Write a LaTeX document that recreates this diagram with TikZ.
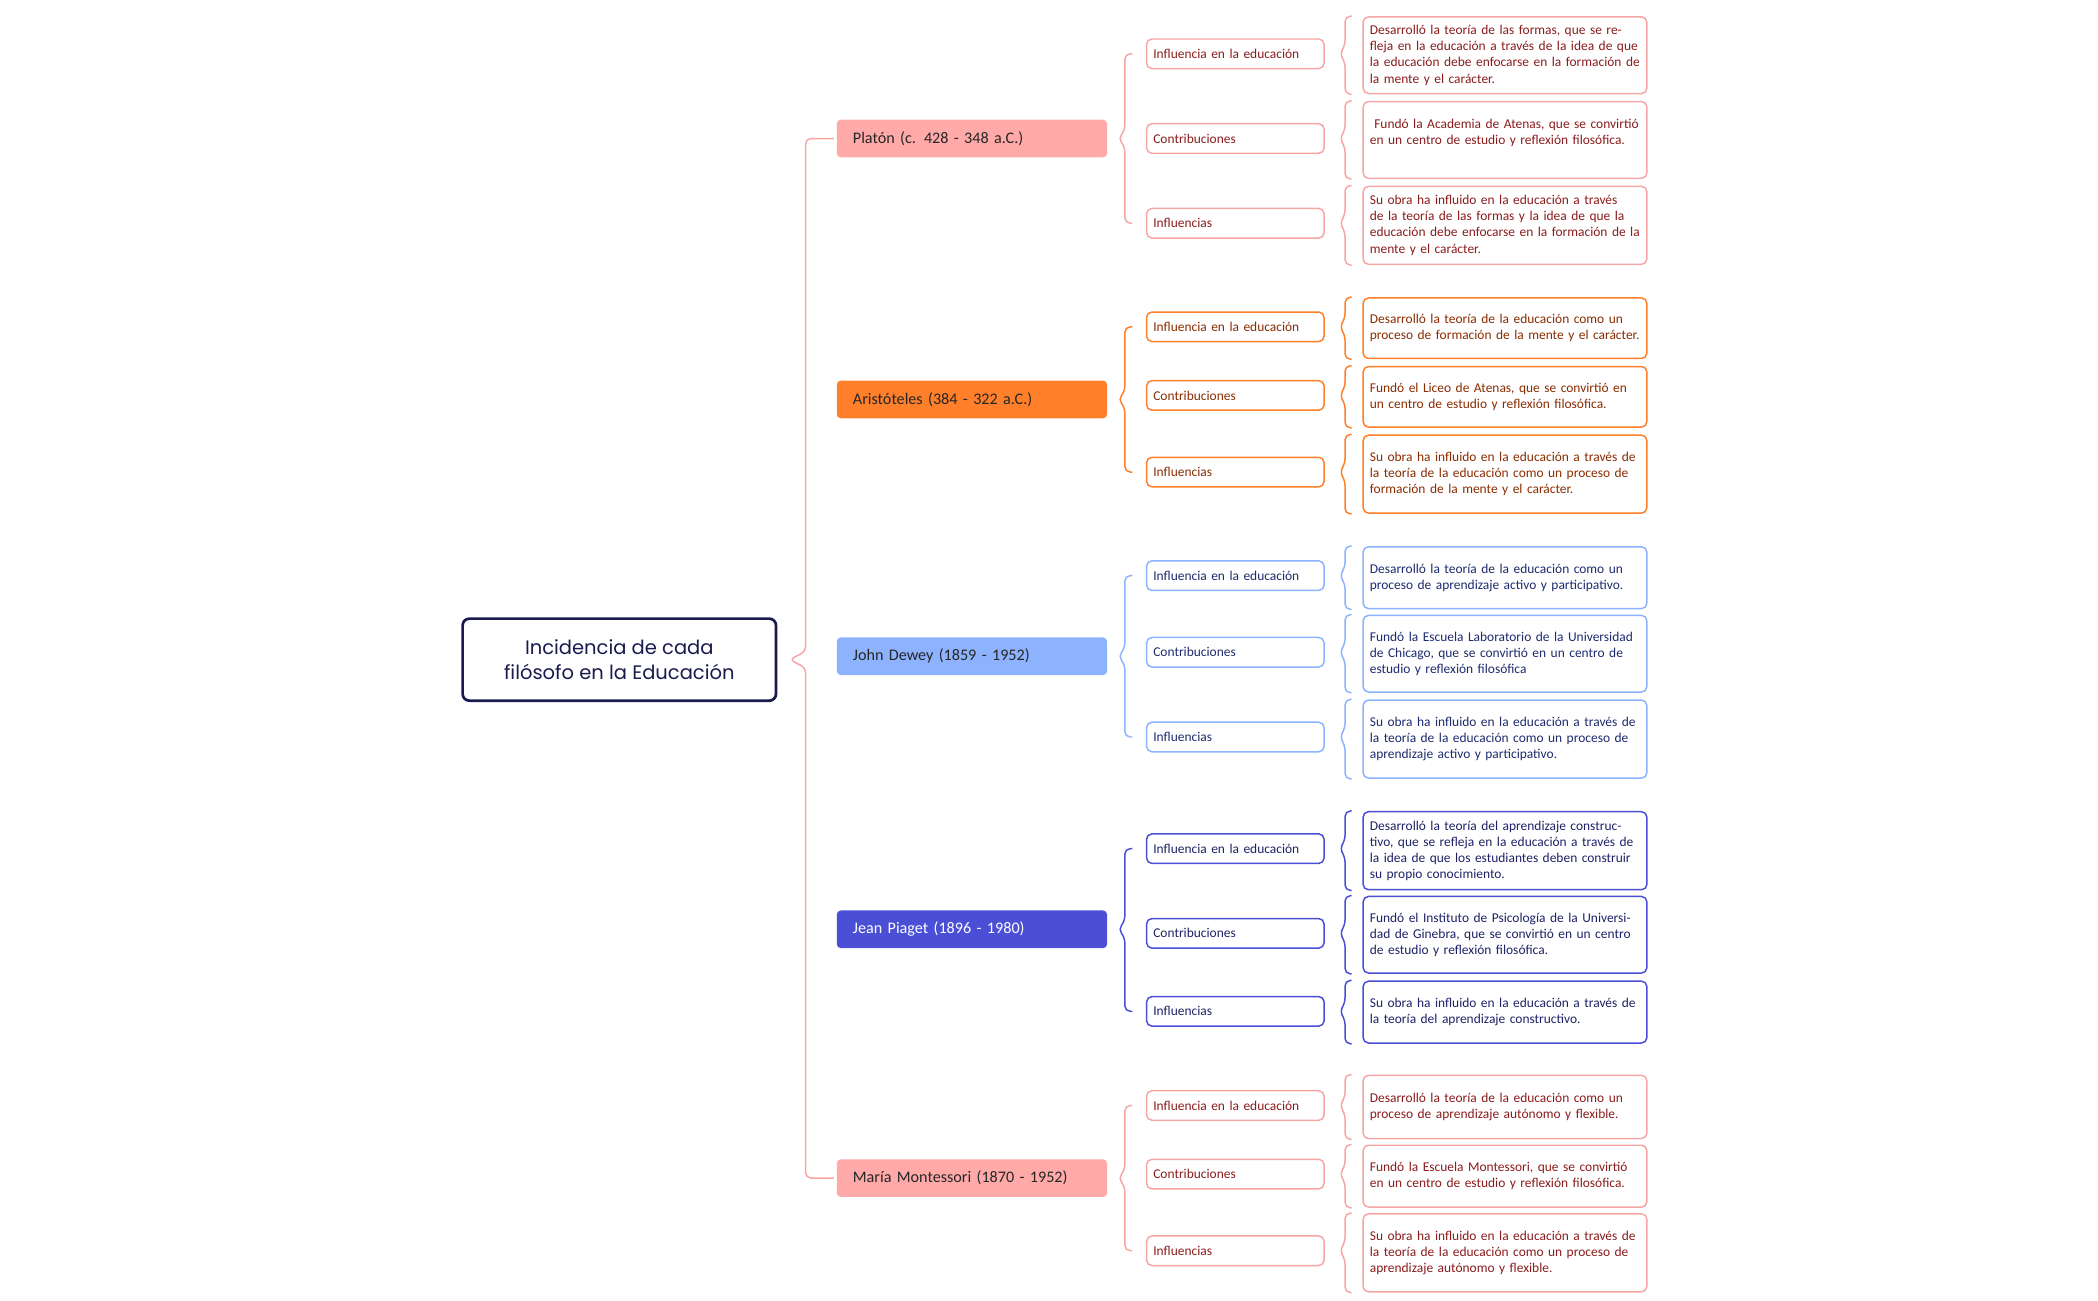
\documentclass[tikz,border=0pt]{standalone}
\usepackage{fontspec}
\setmainfont{Carlito}
\newfontfamily\titlefont{Poppins}
\usetikzlibrary{calc}
\definecolor{pk}{HTML}{F7A5A5}\definecolor{pkf}{HTML}{FFAAA8}\definecolor{pkt}{HTML}{8B1C1C}
\definecolor{orb}{HTML}{FF7F2A}\definecolor{ort}{HTML}{8A2C00}
\definecolor{blb}{HTML}{8DB3FF}\definecolor{blt}{HTML}{1E2B6E}
\definecolor{ppb}{HTML}{4A4FD6}\definecolor{ppt}{HTML}{1E2266}
\definecolor{navy}{HTML}{1A1A4E}
\newcommand\brc[6]{\draw[#1, line width=1.1pt, rounded corners=4pt] let \p1=(#3), \p2=(#2), \p3=(#4) in (\x1,\y1) -- (\x2+#6,\y1) -- (\x2+#6,\y2+6pt) -- (\x2+#5,\y2) -- (\x2+#6,\y2-6pt) -- (\x2+#6,\y3) -- (\x3,\y3);}
\tikzset{
 phil/.style={rounded corners=3pt, minimum height=28, text width=177, inner xsep=12, align=left, font=\fontsize{12}{14}\selectfont, anchor=west},
 ch/.style={draw=#1, line width=1.1pt, fill=white, rounded corners=4pt, minimum height=22, text width=122, inner xsep=5, align=left, font=\fontsize{10}{12}\selectfont, anchor=west},
 lf/.style={draw=#1, line width=1.1pt, fill=white, rounded corners=4pt, text width=201, inner xsep=5, inner ysep=3, align=left, font=\fontsize{10}{12}\selectfont, anchor=north west},
}
\begin{document}
\begin{tikzpicture}[x=1pt,y=-1pt]
\useasboundingbox (0,0) rectangle (1560,967);
\node[draw=navy, line width=2pt, rounded corners=5pt, minimum width=233, minimum height=61, align=center, text=navy, font=\titlefont\fontsize{14.5}{19}\selectfont] (root) at (460.5,490.5) {Incidencia de cada\\filósofo en la Educación};
% philosophers
\node[phil, fill=pkf, text=black!85] (p1) at (622,103) {Platón (c. 428 - 348 a.C.)};
\node[phil, fill=orb, text=black!85] (p2) at (622,297) {Aristóteles (384 - 322 a.C.)};
\node[phil, fill=blb, text=black!85] (p3) at (622,488) {John Dewey (1859 - 1952)};
\node[phil, fill=ppb, text=white] (p4) at (622,691) {Jean Piaget (1896 - 1980)};
\node[phil, fill=pkf, text=black!85] (p5) at (622,876) {María Montessori (1870 - 1952)};
\brc{pk}{root.east}{$(p1.west)+(-2,0)$}{$(p5.west)+(-2,0)$}{9pt}{21pt}
% children
\foreach \i/\c/\t/\ya/\yb/\yc in {1/pk/pkt/40/103/166, 2/orb/ort/243/294/351, 3/blb/blt/428/485/548, 4/ppb/ppt/631/694/752, 5/pk/pkt/822/873/930}{
 \node[ch=\c, text=\t] (c\i a) at (852,\ya) {Influencia en la educación};
 \node[ch=\c, text=\t] (c\i b) at (852,\yb) {Contribuciones};
 \node[ch=\c, text=\t] (c\i c) at (852,\yc) {Influencias};
 \brc{\c}{p\i.east}{$(c\i a.west)+(-10,0)$}{$(c\i c.west)+(-10,0)$}{8pt}{13pt}
}
% leaves
\node[lf=pk, text=pkt, minimum height=57] (l1a) at (1013,12) {Desarrolló la teoría de las formas, que se refleja en la educación a través de la idea de que la educación debe enfocarse en la formación de la mente y el carácter.};
\node[lf=pk, text=pkt, minimum height=57] (l1b) at (1013,75) {\ Fundó la Academia de Atenas, que se convirtió en un centro de estudio y reflexión filosófica.\\\mbox{}};
\node[lf=pk, text=pkt, minimum height=58] (l1c) at (1013,138) {Su obra ha influido en la educación a través de la teoría de las formas y la idea de que la educación debe enfocarse en la formación de la mente y el carácter.};
\node[lf=orb, text=ort, minimum height=45] (l2a) at (1013,221) {Desarrolló la teoría de la educación como un proceso de formación de la mente y el carácter.};
\node[lf=orb, text=ort, minimum height=45] (l2b) at (1013,272) {Fundó el Liceo de Atenas, que se convirtió en un centro de estudio y reflexión filosófica.};
\node[lf=orb, text=ort, minimum height=58] (l2c) at (1013,323) {Su obra ha influido en la educación a través de la teoría de la educación como un proceso de formación de la mente y el carácter.};
\node[lf=blb, text=blt, minimum height=46] (l3a) at (1013,406) {Desarrolló la teoría de la educación como un proceso de aprendizaje activo y participativo.};
\node[lf=blb, text=blt, minimum height=57] (l3b) at (1013,457) {Fundó la Escuela Laboratorio de la Universidad de Chicago, que se convirtió en un centro de estudio y reflexión filosófica};
\node[lf=blb, text=blt, minimum height=58] (l3c) at (1013,520) {Su obra ha influido en la educación a través de la teoría de la educación como un proceso de aprendizaje activo y participativo.};
\node[lf=ppb, text=ppt, minimum height=58] (l4a) at (1013,603) {Desarrolló la teoría del aprendizaje constructivo, que se refleja en la educación a través de la idea de que los estudiantes deben construir su propio conocimiento.};
\node[lf=ppb, text=ppt, minimum height=57] (l4b) at (1013,666) {Fundó el Instituto de Psicología de la Universidad de Ginebra, que se convirtió en un centro de estudio y reflexión filosófica.};
\node[lf=ppb, text=ppt, minimum height=46] (l4c) at (1013,729) {Su obra ha influido en la educación a través de la teoría del aprendizaje constructivo.};
\node[lf=pk, text=pkt, minimum height=47] (l5a) at (1013,799) {Desarrolló la teoría de la educación como un proceso de aprendizaje autónomo y flexible.};
\node[lf=pk, text=pkt, minimum height=46] (l5b) at (1013,851) {Fundó la Escuela Montessori, que se convirtió en un centro de estudio y reflexión filosófica.};
\node[lf=pk, text=pkt, minimum height=58] (l5c) at (1013,902) {Su obra ha influido en la educación a través de la teoría de la educación como un proceso de aprendizaje autónomo y flexible.};
\foreach \i/\c in {1/pk,2/orb,3/blb,4/ppb,5/pk}{
 \foreach \k in {a,b,c}{
  \brc{\c}{c\i\k.east}{$(l\i\k.north west)+(-8,0)$}{$(l\i\k.south west)+(-8,0)$}{11pt}{15pt}
 }
}
\end{tikzpicture}
\end{document}
